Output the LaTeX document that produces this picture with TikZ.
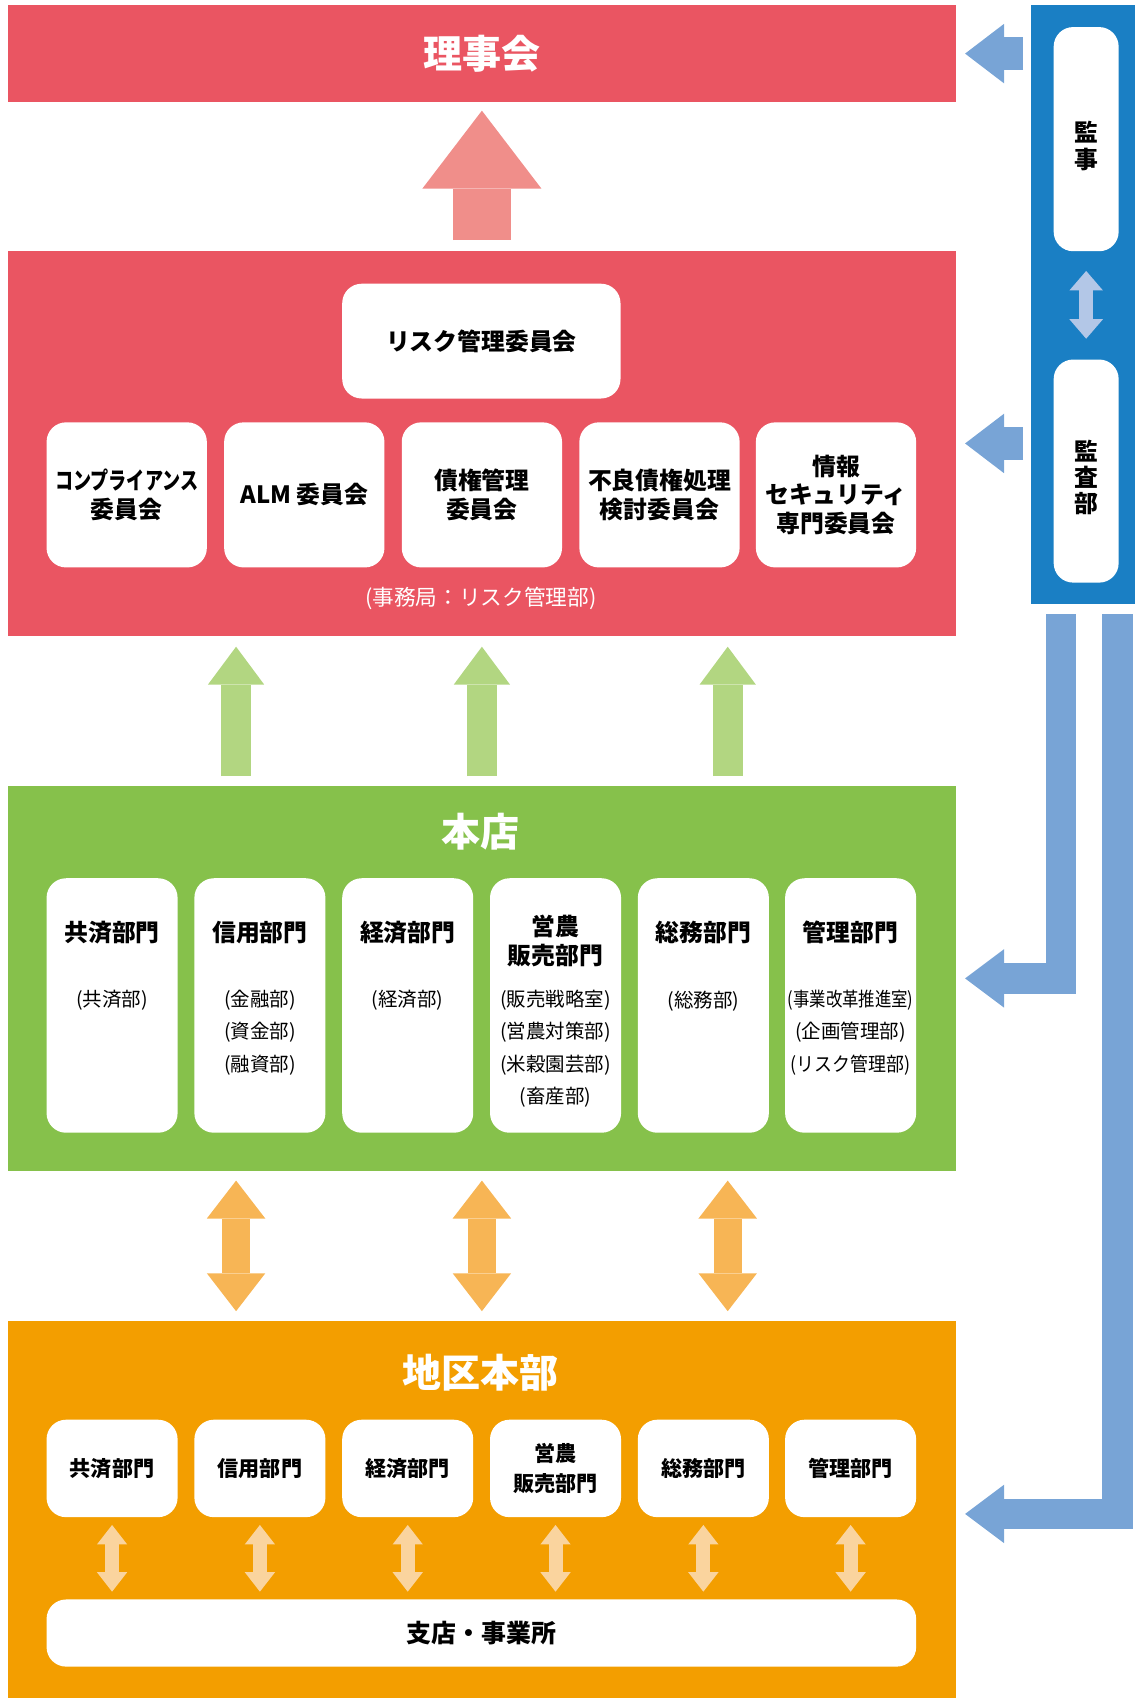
\documentclass[tikz,border=0pt]{standalone}
\usepackage{fontspec}
\setmainfont{Noto Sans CJK JP}
\usepackage{tikz}
\usetikzlibrary{arrows.meta}

\definecolor{riskred}{RGB}{234,85,98}
\definecolor{uparrred}{RGB}{240,142,138}
\definecolor{hontengreen}{RGB}{134,193,75}
\definecolor{uparrgreen}{RGB}{178,214,129}
\definecolor{chikuorange}{RGB}{243,158,0}
\definecolor{arrorange}{RGB}{247,181,85}
\definecolor{arrpale}{RGB}{250,212,158}
\definecolor{kansablue}{RGB}{26,127,196}
\definecolor{arrblue}{RGB}{120,164,214}
\definecolor{arrpaleblue}{RGB}{179,199,231}

\begin{document}
\begin{tikzpicture}[x=1pt, y=-1pt,
  panel/.style={rectangle, inner sep=0pt, minimum width=876pt},
  whitebox/.style={rectangle, rounded corners=18pt, fill=white, inner sep=0pt, align=center},
  bigtitle/.style={text=white, inner sep=0pt, font=\fontsize{36}{40}\selectfont\bfseries},
  boxtext/.style={inner sep=0pt, align=center, font=\fontsize{22}{26.5}\selectfont\bfseries},
  subtext/.style={inner sep=0pt, align=center, anchor=north, font=\fontsize{18}{30}\selectfont},
  smalltext/.style={font=\fontsize{19.5}{27}\selectfont\bfseries},
  redup/.style={draw=uparrred, line width=53pt, -{Triangle[length=72pt, width=110pt, line width=0pt]}},
  greenup/.style={draw=uparrgreen, line width=28pt, -{Triangle[length=35pt, width=52pt, line width=0pt]}},
  orangeboth/.style={draw=arrorange, line width=26pt, {Triangle[length=35pt, width=54pt, line width=0pt]}-{Triangle[length=35pt, width=54pt, line width=0pt]}},
  paleboth/.style={draw=arrpale, line width=13pt, {Triangle[length=18pt, width=28pt, line width=0pt]}-{Triangle[length=18pt, width=28pt, line width=0pt]}},
  blueboth/.style={draw=arrpaleblue, line width=13pt, {Triangle[length=18pt, width=31pt, line width=0pt]}-{Triangle[length=18pt, width=31pt, line width=0pt]}},
  blueleft/.style={draw=arrblue, line width=30pt, line join=miter, -{Triangle[length=36pt, width=55pt, line width=0pt]}},
  bluebend/.style={draw=arrblue, line width=28pt, line join=miter, -{Triangle[length=36pt, width=54pt, line width=0pt]}}]

  \useasboundingbox (0,0) rectangle (1049,1568);

  % panels
  \node[panel, fill=riskred, minimum height=89pt, bigtitle] (board) at (445,49.5) {理事会};
  \node[panel, fill=riskred, minimum height=355pt] (risk) at (445,409.5) {};
  \node[panel, fill=hontengreen, minimum height=355pt] (honten) at (445,903.5) {};
  \node[panel, fill=chikuorange, minimum height=348pt] (chiku) at (445,1394) {};
  \node[rectangle, inner sep=0pt, fill=kansablue, minimum width=96pt, minimum height=553pt] (audit) at (1000,281.5) {};

  % audit side
  \node[whitebox, minimum width=60pt, minimum height=207pt] (kanji) at (1003,128.5) {};
  \node[whitebox, minimum width=60pt, minimum height=206pt] (kansa) at (1003,435) {};
  \node[boxtext, font=\fontsize{22}{25}\selectfont\bfseries] (kanjit) at (1003,135) {監\\事};
  \node[boxtext, font=\fontsize{22}{24}\selectfont\bfseries] (kansat) at (1003,440.5) {監\\査\\部};

  % risk committees
  \node[whitebox, boxtext, minimum width=257pt, minimum height=106pt] (riskcom) at (444.5,315) {リスク管理委員会};
  \node[whitebox, boxtext, minimum width=148pt, minimum height=134pt] (comp) at (117,457) {\scalebox{0.76}[1]{コンプライアンス}\\委員会};
  \node[whitebox, boxtext, minimum width=148pt, minimum height=134pt] (alm) at (281,457) {ALM 委員会};
  \node[whitebox, boxtext, minimum width=148pt, minimum height=134pt] (saiken) at (445,457) {債権管理\\委員会};
  \node[whitebox, boxtext, minimum width=148pt, minimum height=134pt] (furyo) at (609,457) {不良債権処理\\検討委員会};
  \node[whitebox, boxtext, minimum width=148pt, minimum height=134pt] (joho) at (772,457) {情報\\セキュリティ\\専門委員会};
  \node[text=white, inner sep=0pt, font=\fontsize{20}{24}\selectfont] (jimu) at (444,553) {(事務局：リスク管理部)};

  % honten
  \node[bigtitle] (hontent) at (444,768) {本店};
  \node[whitebox, minimum width=121pt, minimum height=235pt] (h1) at (103.5,928.5) {};
  \node[whitebox, minimum width=121pt, minimum height=235pt] (h2) at (240,928.5) {};
  \node[whitebox, minimum width=121pt, minimum height=235pt] (h3) at (376.5,928.5) {};
  \node[whitebox, minimum width=121pt, minimum height=235pt] (h4) at (513,928.5) {};
  \node[whitebox, minimum width=121pt, minimum height=235pt] (h5) at (649.5,928.5) {};
  \node[whitebox, minimum width=121pt, minimum height=235pt] (h6) at (785.5,928.5) {};
  \node[boxtext] (h1t) at (103.5,861) {共済部門};
  \node[boxtext] (h2t) at (240,861) {信用部門};
  \node[boxtext] (h3t) at (376.5,861) {経済部門};
  \node[boxtext] (h4t) at (513,869) {営農\\販売部門};
  \node[boxtext] (h5t) at (649.5,861) {総務部門};
  \node[boxtext] (h6t) at (785.5,861) {管理部門};
  \node[subtext] (h1s) at (103.5,914) {(共済部)};
  \node[subtext] (h2s) at (240,914) {(金融部)\\(資金部)\\(融資部)};
  \node[subtext] (h3s) at (376.5,914) {(経済部)};
  \node[subtext] (h4s) at (513,914) {(販売戦略室)\\(営農対策部)\\(米穀園芸部)\\(畜産部)};
  \node[subtext] (h5s) at (649.5,915) {(総務部)};
  \node[subtext] (h6s) at (785.5,914) {\scalebox{0.84}[1]{(事業改革推進室)}\\(企画管理部)\\\scalebox{0.92}[1]{(リスク管理部)}};

  % chiku honbu
  \node[bigtitle] (chikut) at (444,1268) {地区本部};
  \node[whitebox, smalltext, minimum width=121pt, minimum height=90pt] (c1) at (103.5,1356) {共済部門};
  \node[whitebox, smalltext, minimum width=121pt, minimum height=90pt] (c2) at (240,1356) {信用部門};
  \node[whitebox, smalltext, minimum width=121pt, minimum height=90pt] (c3) at (376.5,1356) {経済部門};
  \node[whitebox, smalltext, minimum width=121pt, minimum height=90pt] (c4) at (513,1356) {営農\\販売部門};
  \node[whitebox, smalltext, minimum width=121pt, minimum height=90pt] (c5) at (649.5,1356) {総務部門};
  \node[whitebox, smalltext, minimum width=121pt, minimum height=90pt] (c6) at (785.5,1356) {管理部門};
  \node[whitebox, minimum width=803pt, minimum height=62pt, font=\fontsize{23}{26}\selectfont\bfseries] (shiten) at (444.5,1508) {支店・事業所};

  % arrows between levels
  \draw[redup] ([yshift=10pt]risk.north) -- ([yshift=-8pt]board.south);
  \draw[greenup] ([xshift=-227pt,yshift=9pt]honten.north) -- ([xshift=-227pt,yshift=-10pt]risk.south);
  \draw[greenup] ([yshift=9pt]honten.north) -- ([yshift=-10pt]risk.south);
  \draw[greenup] ([xshift=227pt,yshift=9pt]honten.north) -- ([xshift=227pt,yshift=-10pt]risk.south);
  \draw[orangeboth] ([xshift=-227pt,yshift=-9pt]honten.south) -- ([xshift=-227pt,yshift=9pt]chiku.north);
  \draw[orangeboth] ([yshift=-9pt]honten.south) -- ([yshift=9pt]chiku.north);
  \draw[orangeboth] ([xshift=227pt,yshift=-9pt]honten.south) -- ([xshift=227pt,yshift=9pt]chiku.north);
  \draw[paleboth] ([yshift=-7pt]c1.south) -- ([yshift=7pt]shiten.north -| c1.south);
  \draw[paleboth] ([yshift=-7pt]c2.south) -- ([yshift=7pt]shiten.north -| c2.south);
  \draw[paleboth] ([yshift=-7pt]c3.south) -- ([yshift=7pt]shiten.north -| c3.south);
  \draw[paleboth] ([yshift=-7pt]c4.south) -- ([yshift=7pt]shiten.north -| c4.south);
  \draw[paleboth] ([yshift=-7pt]c5.south) -- ([yshift=7pt]shiten.north -| c5.south);
  \draw[paleboth] ([yshift=-7pt]c6.south) -- ([yshift=7pt]shiten.north -| c6.south);

  % audit arrows
  \draw[blueboth] ([yshift=-18pt]kanji.south) -- ([yshift=19pt]kansa.north);
  \draw[blueleft] ([xshift=-7pt]board.east -| audit.west) -- ([xshift=8pt]board.east);
  \draw[blueleft] ([xshift=-7pt]risk.east -| audit.west) -- ([xshift=8pt]risk.east);
  \coordinate (bend1) at ([xshift=-20pt,yshift=-9pt]audit.south);
  \coordinate (bend2) at ([xshift=32pt,yshift=-9pt]audit.south);
  \draw[bluebend] (bend1) |- ([xshift=8pt]honten.east);
  \draw[bluebend] (bend2) |- ([xshift=8pt,yshift=-4pt]chiku.east);
\end{tikzpicture}
\end{document}
